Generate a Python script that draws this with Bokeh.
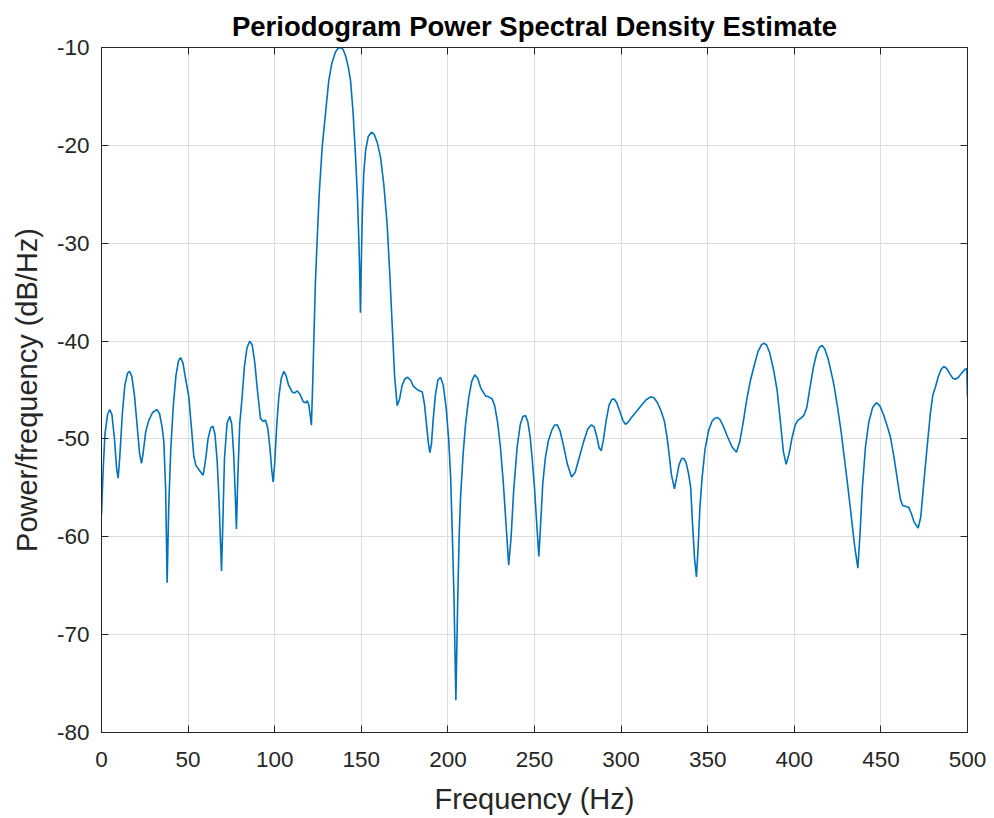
from bokeh.plotting import figure
from bokeh.models import Range1d, FixedTicker, LinearAxis
from bokeh.embed import file_html
from bokeh.resources import INLINE

# ---- data ----
freq_hz = [
    0, 1, 2, 3.5, 4.8, 6, 7.5, 8.7, 9.6, 10.5, 12, 13.5, 15, 16.2, 17.5, 19, 20.5, 22, 23.1, 24,
    25.5, 27.3, 29.5, 32, 33.5, 35, 36, 37, 37.9, 38.8, 40, 41.5, 43, 44.5, 45.6, 47, 48.5, 50.4,
    52, 53.3, 54.5, 56.5, 58.7, 60.2, 61.5, 63, 64.3, 65.5, 66.8, 67.8, 68.6, 69.3, 70, 71, 72.5,
    74.1, 75.2, 76.3, 77.2, 77.9, 78.7, 79.8, 81.2, 82.5, 84, 85.6, 87, 88.5, 90, 91.8, 93.2, 94.7,
    96, 97.3, 98.3, 99.1, 100, 101.2, 102.4, 103.8, 105.3, 106.5, 108, 110.1, 111.5, 113, 114.5,
    116.5, 118, 118.8, 119.7, 120.5, 121.2, 122, 122.6, 123.5, 124.5, 125.7, 127.4, 129.3, 131.2,
    133, 135, 136.5, 138, 139.5, 141, 142.5, 143.8, 145.2, 146.7, 147.7, 148.6, 149.2, 149.5, 150,
    150.6, 151.4, 152.5, 154, 155.9, 157.5, 159.2, 161.1, 163, 164.9, 166.4, 167.8, 169.2, 170.7,
    172, 173.5, 175, 176.7, 178.5, 180, 182.6, 185.2, 186.5, 187.8, 188.8, 189.6, 190.5, 191.5,
    192.8, 194.2, 195.7, 197.3, 199, 200.5, 201.6, 202.5, 203.5, 204.6, 205.6, 206.5, 207.3, 208.8,
    210.2, 212, 213.8, 215.5, 217.2, 219, 221.7, 223.5, 225.5, 227, 228.7, 230.3, 232, 233.6, 235.1,
    236.5, 238, 240, 241.8, 243.3, 244.8, 246.2, 247.5, 248.6, 250, 251.3, 252.5, 253.6, 254.8,
    256.3, 258, 260, 261.6, 263.1, 264.8, 266.9, 269, 271.4, 273.5, 276, 278.5, 280.7, 282.9, 284.5,
    286, 287.3, 288.5, 289.7, 291.3, 293, 294.5, 295.8, 297.5, 299.5, 301, 302.5, 304, 306, 309.3,
    312, 314.5, 317, 319, 321, 323.2, 325, 326.5, 327.7, 329, 330.8, 332, 333.5, 335, 336.2, 337.5,
    339, 340.2, 341.2, 342.4, 343.5, 344.5, 345.5, 346.8, 348.5, 350.6, 352.5, 354, 355.4, 357, 359,
    361.5, 364, 366.6, 368.5, 370.5, 372.5, 374.7, 377, 379, 381, 382.4, 384, 385.8, 388, 390.1, 392,
    393.7, 395.3, 397, 398.8, 400.5, 402, 403.7, 405.5, 407.2, 409, 411, 413, 414.7, 416.1, 417.6,
    419.5, 421.2, 422.8, 425, 427, 428.8, 430.5, 432.5, 434.8, 436.7, 438, 439.3, 441.1, 443, 445.2,
    447.4, 449.3, 451.5, 453.5, 455.5, 457.5, 459.8, 461.3, 462.6, 464.5, 466.1, 467.5, 469.2, 471.5,
    473, 474.5, 476.7, 478.5, 480, 481.5, 483.2, 484.8, 486.3, 488, 490, 491.5, 493, 494.8, 496.5,
    498.5, 499.6, 500,
]
psd_db = [
    -57.7, -53, -49.5, -47.5, -47.0, -47.5, -50, -53, -54.0, -52, -47.5, -44.5, -43.3, -43.1, -43.6,
    -45.5, -48.5, -51.5, -52.5, -51.5, -49.3, -48.1, -47.3, -47.0, -47.4, -48.8, -50.3, -55, -64.7,
    -57, -51, -46.5, -43.5, -42, -41.7, -42.2, -43.8, -45.7, -49, -51.8, -52.7, -53.2, -53.7, -52,
    -50, -48.9, -48.7, -49.5, -52.3, -56, -60, -63.5, -59, -52, -48.4, -47.7, -48.5, -51.5, -55.5,
    -59.2, -54, -48.5, -45.7, -42.6, -40.7, -40.0, -40.4, -42.2, -45, -47.9, -48.2, -48.1, -48.9,
    -51, -53.2, -54.4, -52.5, -48.5, -45.7, -43.8, -43.1, -43.5, -44.5, -45.2, -45.3, -45.1, -45.4,
    -46.2, -46.3, -46.1, -46.5, -47.6, -48.6, -44, -39.9, -34, -29.7, -25, -20.2, -16.8, -13.4,
    -11.6, -10.5, -10.1, -10.0, -10.2, -10.9, -12, -13.4, -16.5, -21.2, -25, -29.7, -34, -37.1, -32,
    -27, -22.9, -20.5, -19.1, -18.65, -18.9, -19.7, -21.2, -24, -28.0, -33, -38.2, -43.5, -46.6,
    -46, -44.6, -43.9, -43.7, -44, -44.6, -45.0, -45.2, -46.5, -48.8, -50.5, -51.4, -50.5, -48,
    -45.5, -44, -43.7, -44.5, -46.8, -50.2, -54, -59.4, -66, -76.7, -67, -60, -56.0, -51.5,
    -48.5, -45.8, -44.1, -43.45, -43.8, -44.8, -45.6, -45.7, -45.9, -46.6, -48.3, -50.8, -54.5, -58.8, -62.9,
    -60, -55.2, -50.8, -48.5, -47.7, -47.6, -48.3, -49.8, -51.9, -55, -58.7, -62.0, -58.5, -54.5,
    -51.9, -50.2, -49.1, -48.6, -48.55, -49.2, -50.8, -52.6, -53.9, -53.4, -51.8, -50.2, -49, -48.55, -48.8,
    -49.8, -50.9, -51.2, -50.2, -48.2, -46.6, -46, -45.9, -46.3, -47.3, -48.1, -48.5, -48.3, -47.8, -47.1,
    -46.5, -46, -45.7, -45.8, -46.3, -47.2, -48.2, -49.8, -51.5, -53.6, -55.1, -54, -52.6, -52, -52.0, -52.4,
    -53.6, -55, -58.5, -62.2, -64.1, -61, -57, -53.9, -51, -49.1, -48.2, -47.9, -47.8, -48, -48.7,
    -49.8, -50.8, -51.35, -50.3, -48.3, -46, -44.0, -42.4, -41.1, -40.4, -40.2, -40.4, -41.2, -42.9, -45.05, -48.3,
    -51.3, -52.6, -51.5, -49.8, -48.6, -48.1, -47.9, -47.6, -46.8, -44.8, -42.7, -41.2, -40.6, -40.45, -40.8,
    -41.8, -43.1, -44.4, -46.8, -49.2, -51.8, -54.25, -57.3, -60.9, -63.2, -59.5, -55, -50.8, -48.3, -46.8,
    -46.3, -46.6, -47.5, -48.6, -49.8, -51.8, -54.5, -56.2, -56.8, -56.9, -57.0, -57.6, -58.5, -59.1,
    -58, -55, -50.8, -47.5, -45.5, -44.7, -43.6, -42.9, -42.6, -42.8, -43.4, -43.8, -43.9, -43.7, -43.3,
    -42.9, -42.8, -45.7,
]

x_ticks = [0, 50, 100, 150, 200, 250, 300, 350, 400, 450, 500]
y_ticks = [-80, -70, -60, -50, -40, -30, -20, -10]
x_tick_labels = ["0", "50", "100", "150", "200", "250", "300", "350", "400", "450", "500"]
y_tick_labels = ["-80", "-70", "-60", "-50", "-40", "-30", "-20", "-10"]

title_text = "Periodogram Power Spectral Density Estimate"
x_label = "Frequency (Hz)"
y_label = "Power/frequency (dB/Hz)"

FONT = "Liberation Sans"
AX = "#262626"

p = figure(
    width=990, height=818,
    x_range=Range1d(0, 500), y_range=Range1d(-80, -10),
    output_backend="svg", toolbar_location=None,
    min_border_left=101, min_border_right=23, min_border_top=47, min_border_bottom=86,
    title=title_text,
)
p.title.align = "center"
p.title.text_font = FONT
p.title.text_font_size = "27.5px"
p.title.text_font_style = "bold"
p.title.text_color = "#000000"
p.title.standoff = 12

p.outline_line_color = AX
p.outline_line_width = 1
p.background_fill_color = "white"
p.border_fill_color = "white"

p.line(freq_hz, psd_db, line_color="#0072BD", line_width=1.6)

def style_axis(ax, ticks, labels, show_labels):
    ax.ticker = FixedTicker(ticks=ticks)
    ax.axis_line_color = AX
    ax.major_tick_line_color = AX
    ax.major_tick_in = 7
    ax.major_tick_out = 0
    ax.minor_tick_line_color = None
    if show_labels:
        ax.major_label_overrides = {t: l for t, l in zip(ticks, labels)}
        ax.major_label_text_font = FONT
        ax.major_label_text_font_size = "22.5px"
        ax.major_label_text_color = AX
    else:
        ax.major_label_overrides = {t: "" for t in ticks}
        ax.major_label_text_font_size = "0px"
        ax.major_label_standoff = 0

style_axis(p.xaxis[0], x_ticks, x_tick_labels, True)
style_axis(p.yaxis[0], y_ticks, y_tick_labels, True)
p.xaxis[0].major_label_standoff = 19
p.yaxis[0].major_label_standoff = 12

p.xaxis[0].axis_label = x_label
p.yaxis[0].axis_label = y_label
for ax in (p.xaxis[0], p.yaxis[0]):
    ax.axis_label_text_font = FONT
    ax.axis_label_text_font_size = "29px"
    ax.axis_label_text_font_style = "normal"
    ax.axis_label_text_color = AX
p.xaxis[0].axis_label_standoff = 13
p.yaxis[0].axis_label_standoff = 11

right_ax = LinearAxis()
top_ax = LinearAxis()
style_axis(right_ax, y_ticks, y_tick_labels, False)
style_axis(top_ax, x_ticks, x_tick_labels, False)
p.add_layout(right_ax, "right")
p.add_layout(top_ax, "above")

p.xgrid.ticker = FixedTicker(ticks=x_ticks)
p.ygrid.ticker = FixedTicker(ticks=y_ticks)
p.grid.grid_line_color = "#dddddd"
p.grid.grid_line_width = 1

open("out.html", "w").write(file_html(p, INLINE))
